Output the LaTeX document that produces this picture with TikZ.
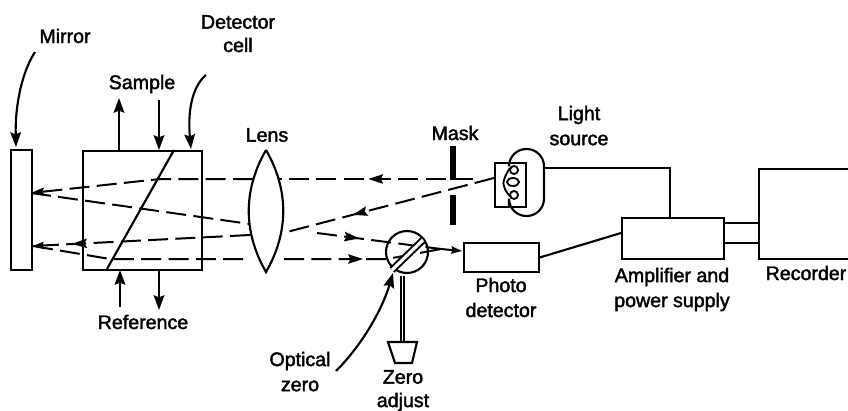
\documentclass[tikz,border=0pt]{standalone}
\usepackage{fontspec}
\setmainfont{Liberation Sans}[FakeBold=2]
\usetikzlibrary{arrows.meta,decorations.markings}
\tikzset{
  x=0.75pt,y=-0.75pt,
  ink/.style={line width=1.6pt,draw=black,line join=miter},
  boxnode/.style={ink,rectangle,inner sep=0pt,anchor=north west},
  label/.style={font=\fontsize{14.7}{14.7}\selectfont,inner sep=0pt,text=black},
  ray/.style={line width=1.5pt,dash pattern=on 15pt off 5.5pt},
  beam/.style={line width=1.5pt},
  tipped/.style={ink,-{Stealth[length=11pt,width=8pt,inset=1.5pt]}},
  midtip/.style={postaction={decorate,decoration={markings,mark=at position #1 with {\arrow{Stealth[length=11pt,width=7pt,inset=1.5pt]}}}}},
  barbed/.style={ink,double=white,double distance=2.4pt,line width=1.5pt},
}
\begin{document}
\begin{tikzpicture}
\useasboundingbox (0,0) rectangle (848,410);
% ---- boxes
\node[boxnode,minimum width=15.75pt,minimum height=90pt] (mirror) at (10,149) {};
\node[boxnode,minimum width=89.25pt,minimum height=89.25pt] (cell) at (82,150) {};
\node[boxnode,minimum width=23.25pt,minimum height=33pt] (source) at (494,162) {};
\node[boxnode,minimum width=56.25pt,minimum height=21.75pt] (photo) at (463,242) {};
\node[boxnode,minimum width=76.5pt,minimum height=30.75pt] (amp) at (621,217) {};
\node[boxnode,minimum width=67.5pt,minimum height=67.5pt] (rec) at (758,168) {};
\node[circle,ink,inner sep=0pt,minimum size=31.5pt] (zero) at (407,252) {};
% ---- cell diagonal
\coordinate (dt) at (174,150); \coordinate (db) at (107,269);
\draw[ink] (dt) -- (db);
% ---- lens
\coordinate (lt) at (266,150); \coordinate (lb) at (266,272);
\draw[ink] (lt) .. controls (243,190) and (243,232) .. (lb) .. controls (289,232) and (289,190) .. (lt);
% ---- mask
\coordinate (mka) at (453,146); \coordinate (mkb) at (453,180);
\coordinate (mkc) at (453,195); \coordinate (mkd) at (453,225);
\draw[line width=5pt] (mka) -- (mkb) (mkc) -- (mkd);
% ---- lamp
\coordinate (ea) at (509,162); \coordinate (eb) at (544,149); \coordinate (ec) at (509,216); \coordinate (ed) at (509,206);
\draw[ink,rounded corners=13pt] (ea) |- (eb) |- (ec) -- (ed);
\draw[line width=1.4pt] (514,170) circle[radius=4] (513,182) ellipse[x radius=6,y radius=4] (514,195) circle[radius=4];
\draw[line width=1.4pt] (510,168) .. controls (505,175) and (502,184) .. (504,186) .. controls (505,191) and (508,194) .. (511,197);
% ---- wires
\coordinate (w1) at (545,168); \coordinate (w2) at (670,168); \coordinate (w3) at (670,217);
\draw[ink] (w1) -- (w2) -- (w3);
\coordinate (pdo) at (538,258); \coordinate (ami) at (621,233);
\draw[ink] (pdo) -- (ami);
\coordinate (a1) at (723,223); \coordinate (r1) at (758,223);
\coordinate (a2) at (723,243); \coordinate (r2) at (758,243);
\draw[ink] (a1) -- (r1) (a2) -- (r2);
% ---- rays
\coordinate (m1) at (31,193); \coordinate (m2) at (33,246);
\coordinate (p1) at (473,179); \coordinate (p2) at (279,179); \coordinate (p3) at (253,179); \coordinate (p4) at (160,179);
\draw[ray,midtip=0.54] (p1) -- (p2);
\draw[ray,-{Stealth[length=10pt,width=6pt,inset=1.5pt]}] (p3) -- (p4) -- (m1);
\coordinate (q1) at (250,224);
\draw[ray] (m1) -- (q1);
\coordinate (q2) at (317,233); \coordinate (q3) at (441,249); \coordinate (q4) at (462,251);
\draw[ray,midtip=0.34] (q2) -- (q3);
\draw[beam,-{Stealth[length=8pt,width=5.5pt,inset=1pt]}] (q3) -- (q4);
\coordinate (s1) at (494,178); \coordinate (s2) at (283,233);
\draw[ray,midtip=0.67] (s1) -- (s2);
\coordinate (s3) at (250,235);
\draw[ray,midtip=0.82,-{Stealth[length=8pt,width=5.5pt,inset=1pt]}] (s3) -- (m2);
\coordinate (t1) at (110,259); \coordinate (t2) at (249,259);
\draw[ray] (m2) -- (t1) -- (t2);
\coordinate (t3) at (284,259); \coordinate (t4) at (387,259);
\draw[ray,midtip=0.5] (t3) -- (t4) -- (q3);
% ---- optical zero strip and knob
\coordinate (za) at (392,270); \coordinate (zb) at (423,240);
\draw[barbed] (za) -- (zb);
\coordinate (sh) at (402.5,276); \coordinate (kn) at (402.5,342);
\draw[barbed,double distance=1pt,line width=1.4pt] (sh) -- (kn);
\coordinate (k1) at (388,342); \coordinate (k2) at (417,342); \coordinate (k3) at (412,363); \coordinate (k4) at (395,363);
\draw[ink] (k1) -- (k2) -- (k3) -- (k4) -- cycle;
% ---- arrows to and from the cell
\coordinate (c1) at (119,150); \coordinate (c2) at (119,98);
\coordinate (c3) at (159,100); \coordinate (c4) at (159,150);
\coordinate (c5) at (120,307); \coordinate (c6) at (120,270);
\coordinate (c7) at (159,270); \coordinate (c8) at (159,310);
\draw[tipped] (c1) -- (c2);
\draw[tipped] (c3) -- (c4);
\draw[tipped] (c5) -- (c6);
\draw[tipped] (c7) -- (c8);
% ---- labels
\node[label] (lmirror) at (65,36) {Mirror};
\node[label] (ldet) at (238,22) {Detector};
\node[label] (lcell) at (238,45) {cell};
\node[label] (lsample) at (142,84) {Sample};
\node[label] (lref) at (143,322) {Reference};
\node[label] (llens) at (267,135) {Lens};
\node[label] (lmask) at (455,133) {Mask};
\node[label] (llight) at (579,115) {Light};
\node[label] (lsrc) at (579,140) {source};
\node[label] (lphoto) at (501,285) {Photo};
\node[label] (lpd) at (501,310) {detector};
\node[label] (lopt) at (300,361) {Optical};
\node[label] (lzer) at (300,386) {zero};
\node[label] (lz) at (403,377) {Zero};
\node[label] (ladj) at (403,402) {adjust};
\node[label] (lamp) at (672,277) {Amplifier and};
\node[label] (lpow) at (672,302) {power supply};
\node[label] (lrec) at (806,273) {Recorder};
% ---- leader curves
\coordinate (cm1) at (35,52); \coordinate (cm2) at (16,147);
\draw[tipped] (cm1) .. controls (22,72) and (15,105) .. (cm2);
\coordinate (cd1) at (206,75); \coordinate (cd2) at (191,149);
\draw[tipped] (cd1) .. controls (195,84) and (187,105) .. (cd2);
\coordinate (co1) at (336,371); \coordinate (co2) at (393,273);
\draw[tipped] (co1) .. controls (362,345) and (382,310) .. (co2);
\end{tikzpicture}
\end{document}
